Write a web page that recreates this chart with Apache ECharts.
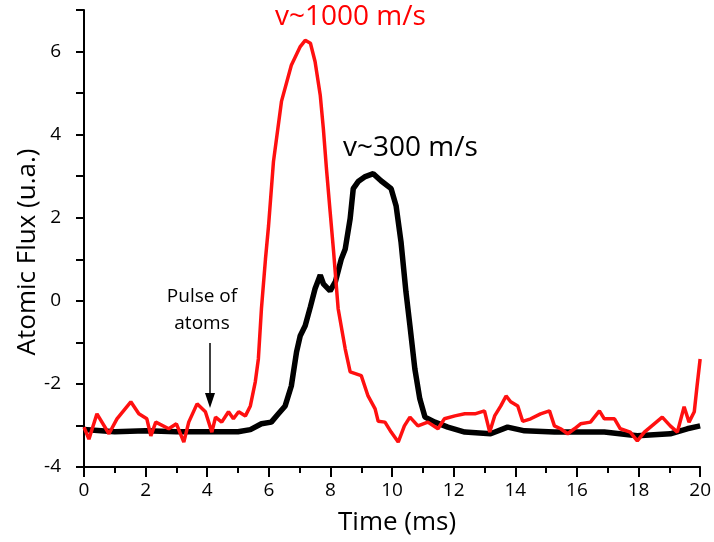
<!DOCTYPE html>
<html>
<head>
<meta charset="utf-8">
<script src="https://cdn.jsdelivr.net/npm/echarts@6/dist/echarts.min.js"></script>
<style>html,body{margin:0;padding:0;background:#fff}#c{width:714px;height:542px}</style>
</head>
<body>
<div id="c"></div>
<script>
// Time (ms) and flux values
const redTime = [0,0.16,0.42,0.81,1.07,1.52,1.78,2.04,2.17,2.33,2.75,3.0,3.24,3.4,3.67,3.94,4.15,4.27,4.47,4.69,4.85,5.02,5.24,5.4,5.56,5.66,5.76,5.89,5.99,6.15,6.41,6.73,7.02,7.18,7.35,7.5,7.67,7.77,7.87,7.99,8.1,8.25,8.48,8.64,9.0,9.22,9.45,9.55,9.77,9.97,10.2,10.4,10.58,10.84,11.16,11.49,11.7,12.04,12.36,12.69,13.0,13.17,13.33,13.53,13.7,13.85,14.08,14.24,14.5,14.82,15.11,15.27,15.47,15.7,15.92,16.12,16.44,16.73,16.89,17.22,17.41,17.73,17.96,18.19,18.51,18.77,19.03,19.26,19.48,19.64,19.81,19.9,20.0];
const redFlux = [-3.04,-3.33,-2.72,-3.2,-2.84,-2.43,-2.72,-2.84,-3.25,-2.92,-3.08,-2.96,-3.4,-2.92,-2.48,-2.67,-3.16,-2.8,-2.92,-2.67,-2.84,-2.67,-2.77,-2.53,-1.95,-1.4,-0.19,1.0,1.8,3.35,4.8,5.67,6.12,6.27,6.2,5.76,4.94,4.14,3.18,2.14,1.2,-0.19,-1.16,-1.71,-1.8,-2.29,-2.6,-2.9,-2.92,-3.16,-3.4,-3.01,-2.8,-3.01,-2.92,-3.08,-2.84,-2.77,-2.72,-2.72,-2.65,-3.16,-2.77,-2.53,-2.29,-2.43,-2.53,-2.9,-2.84,-2.72,-2.65,-3.01,-3.08,-3.2,-3.08,-2.96,-2.92,-2.65,-2.84,-2.84,-3.08,-3.16,-3.37,-3.16,-2.96,-2.8,-3.01,-3.16,-2.55,-2.92,-2.67,-2.05,-1.4];

const blackTime = [0,1,2,3,4,5,5.4,5.76,6.08,6.31,6.53,6.73,6.9,7.02,7.18,7.35,7.5,7.67,7.77,7.99,8.16,8.35,8.48,8.64,8.74,8.9,9.13,9.39,9.64,9.97,10.13,10.29,10.45,10.58,10.74,10.9,11.07,11.39,11.81,12.36,13.2,13.75,14.3,15.27,15.8,16.89,17.96,19.03,19.58,20.0];
const blackFlux = [-3.1,-3.15,-3.13,-3.15,-3.15,-3.15,-3.1,-2.96,-2.92,-2.72,-2.53,-2.05,-1.23,-0.84,-0.6,-0.14,0.29,0.62,0.41,0.24,0.46,1.0,1.25,1.98,2.7,2.87,2.99,3.06,2.89,2.7,2.29,1.42,0.22,-0.6,-1.64,-2.36,-2.8,-2.92,-3.04,-3.16,-3.2,-3.04,-3.13,-3.16,-3.16,-3.16,-3.25,-3.2,-3.08,-3.01];

const xTicks = {min: 0, max: 20, interval: 2};
const yTicks = {min: -4, max: 7, interval: 2};

const pair = (xs, ys) => xs.map((x, i) => [x, ys[i]]);
const FONT = '"Open Sans", "Noto Sans", sans-serif';

const chart = echarts.init(document.getElementById('c'), null, {renderer: 'canvas'});
chart.setOption({
  animation: false,
  backgroundColor: '#fff',
  grid: {left: 84, right: 11, top: 10, bottom: 75},
  xAxis: {
    type: 'value', min: xTicks.min, max: xTicks.max, interval: xTicks.interval,
    name: 'Time (ms)', nameLocation: 'middle', nameGap: 43,
    nameTextStyle: {fontFamily: FONT, fontSize: 26, color: '#000', padding: [0, 0, 0, 10]},
    axisLine: {onZero: false, lineStyle: {color: '#000', width: 2}},
    axisTick: {show: true, length: 10, inside: false, lineStyle: {color: '#000', width: 2}},
    minorTick: {show: true, splitNumber: 2, length: 6, lineStyle: {color: '#000', width: 2}},
    axisLabel: {fontFamily: FONT, fontSize: 19, color: '#000', margin: 14},
    splitLine: {show: false}
  },
  yAxis: {
    type: 'value', min: yTicks.min, max: yTicks.max, interval: yTicks.interval,
    axisLine: {show: true, onZero: false, lineStyle: {color: '#000', width: 2}},
    axisTick: {show: true, length: 8, lineStyle: {color: '#000', width: 2}},
    minorTick: {show: true, splitNumber: 2, length: 8, lineStyle: {color: '#000', width: 2}},
    axisLabel: {fontFamily: FONT, fontSize: 19, color: '#000', margin: 23,
      formatter: v => (v > 6 ? '' : String(v))},
    splitLine: {show: false}
  },
  series: [
    {type: 'line', data: pair(blackTime, blackFlux), showSymbol: false, symbol: 'none',
     lineStyle: {color: '#000', width: 5.5}, z: 2},
    {type: 'line', data: pair(redTime, redFlux), showSymbol: false, symbol: 'none',
     lineStyle: {color: '#ff1010', width: 3.5}, z: 3}
  ],
  graphic: [
    {type: 'text', x: 28, y: 252, rotation: Math.PI / 2, style: {text: 'Atomic Flux (u.a.)', fill: '#000', font: '26px ' + FONT, align: 'center', verticalAlign: 'middle'}},
    {type: 'text', x: 275, y: 17, style: {text: 'v~1000 m/s', fill: '#ff0000', font: '28px ' + FONT, verticalAlign: 'middle'}},
    {type: 'text', x: 343, y: 148, style: {text: 'v~300 m/s', fill: '#000', font: '28px ' + FONT, verticalAlign: 'middle'}},
    {type: 'text', x: 202, y: 310, style: {text: 'Pulse of\natoms', fill: '#000', font: '19px ' + FONT, align: 'center', verticalAlign: 'middle', lineHeight: 27}},
    {type: 'line', shape: {x1: 210, y1: 343, x2: 210, y2: 396}, style: {stroke: '#000', lineWidth: 1.5}},
    {type: 'polygon', shape: {points: [[205, 393], [215, 393], [210, 408]]}, style: {fill: '#000'}}
  ]
});
</script>
</body>
</html>
